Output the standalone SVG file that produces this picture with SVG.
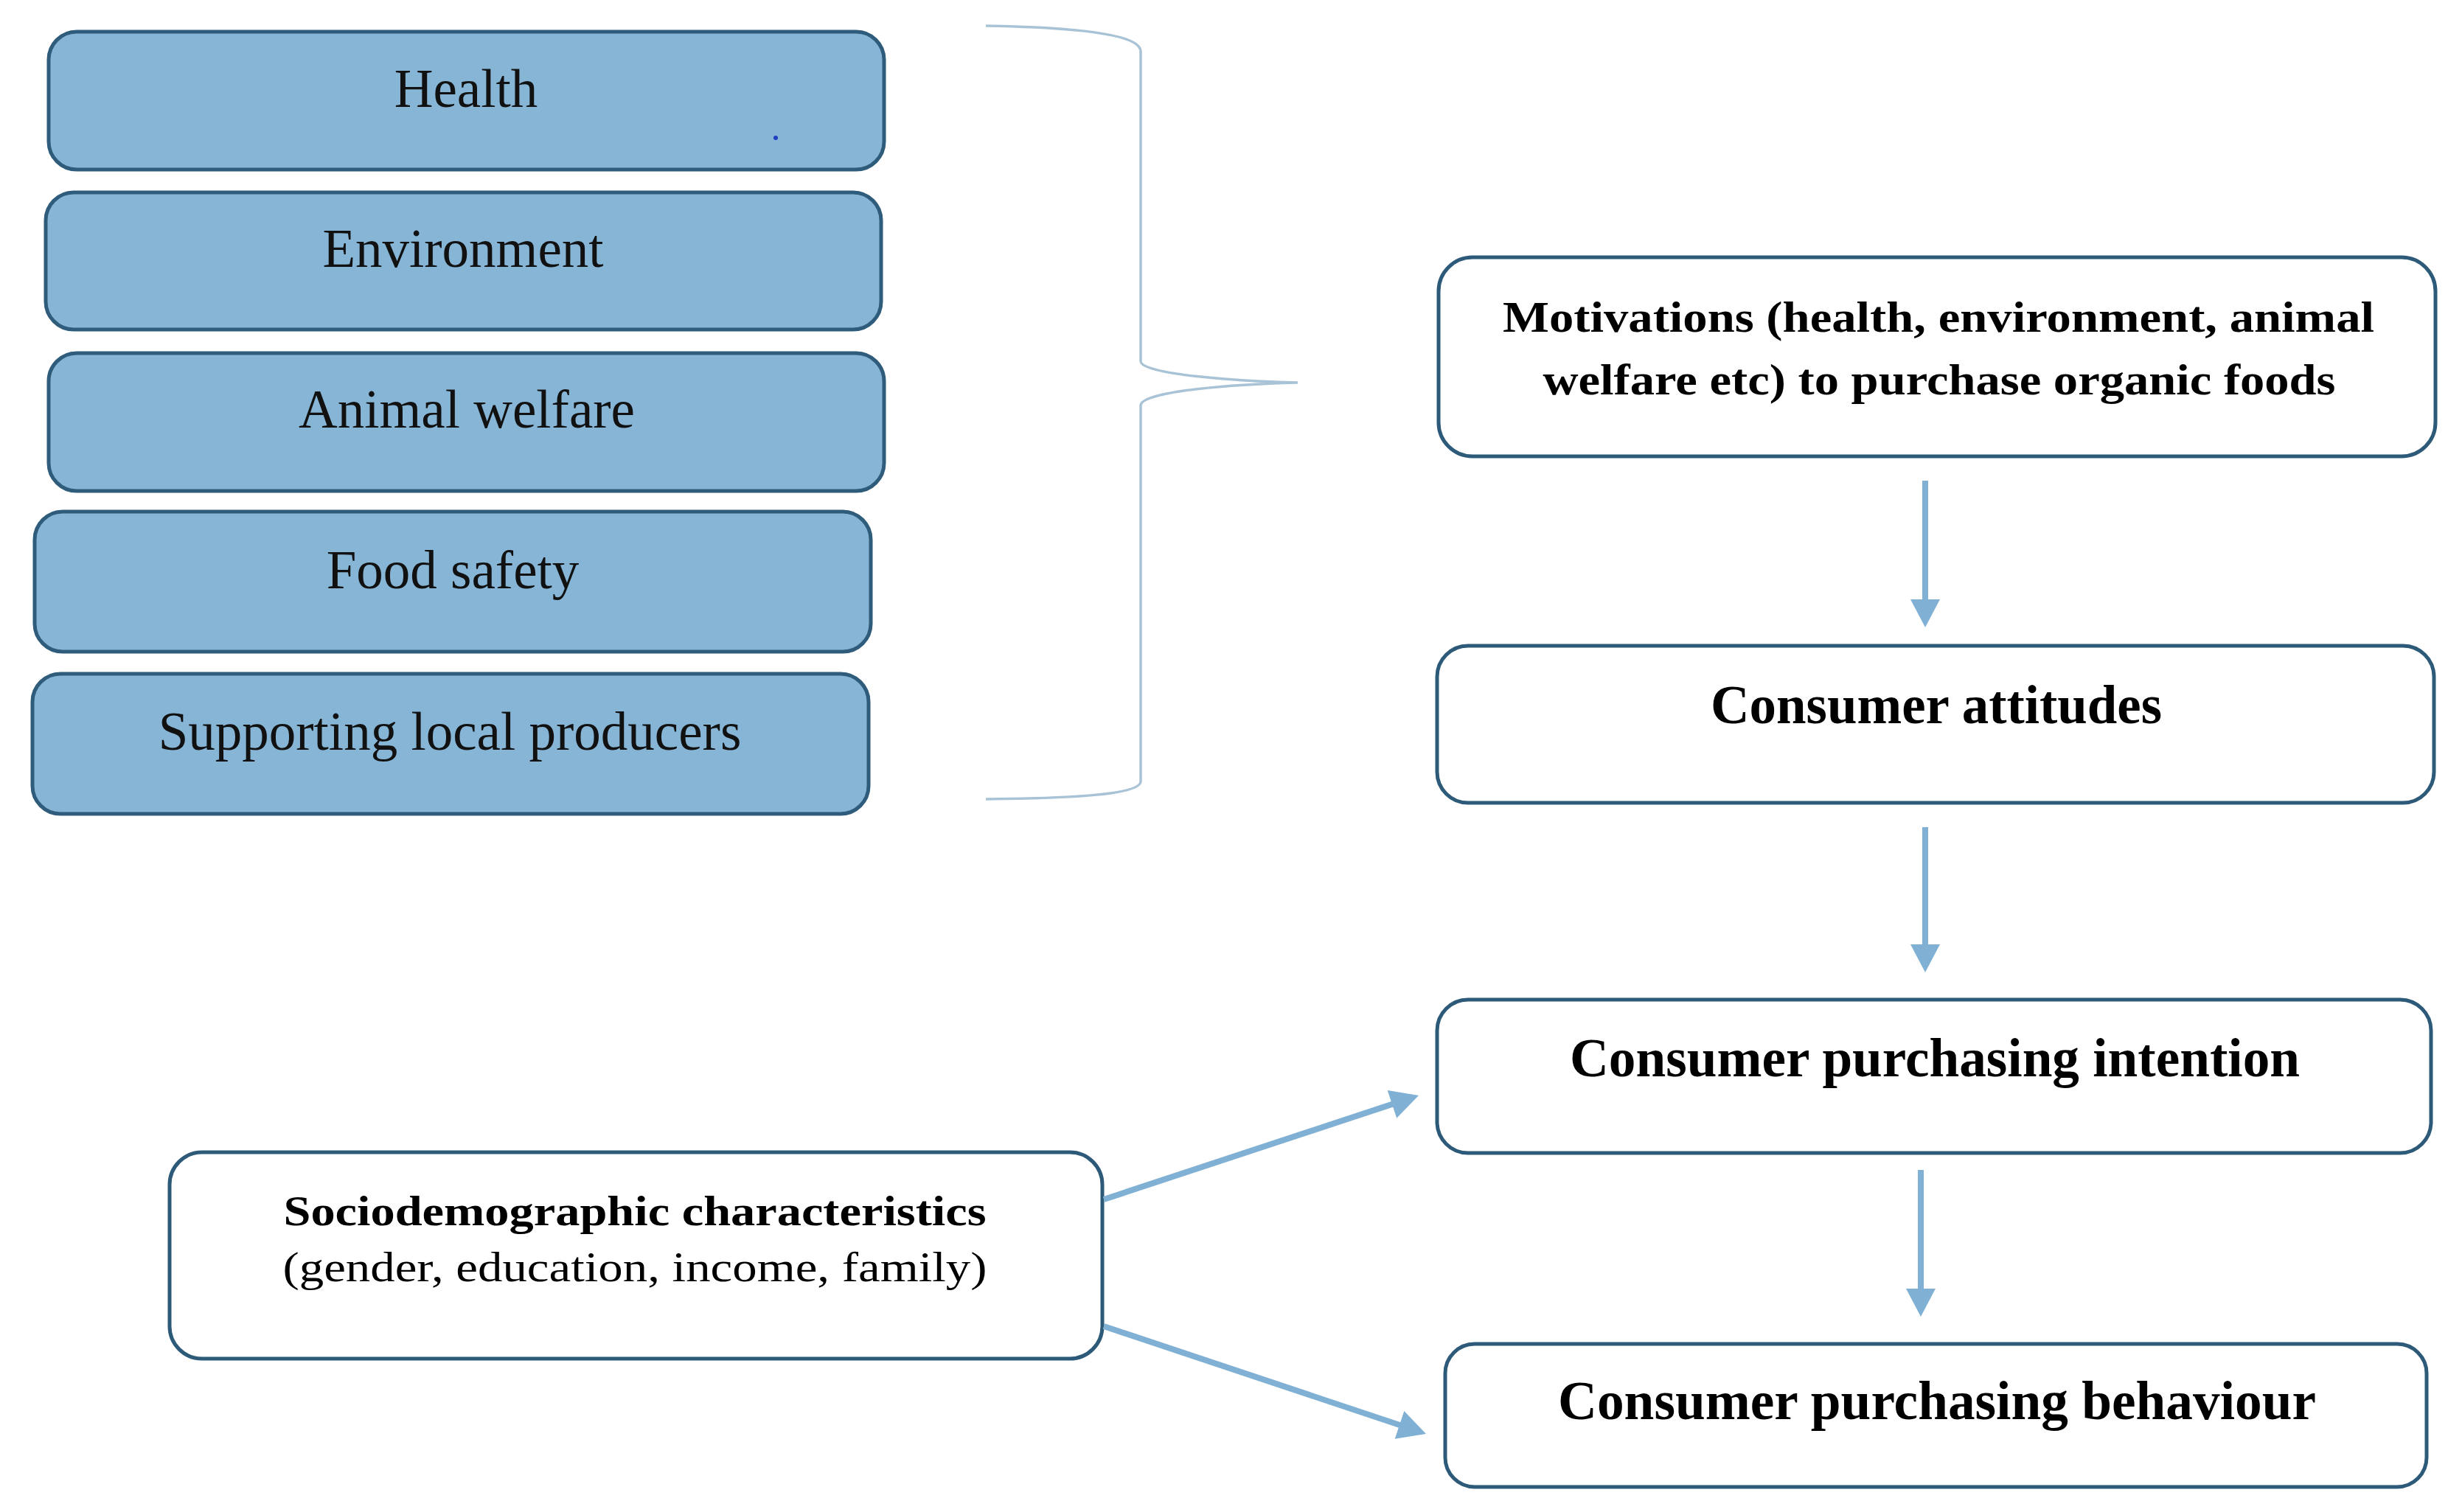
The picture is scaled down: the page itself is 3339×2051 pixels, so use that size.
<svg xmlns="http://www.w3.org/2000/svg" width="3339" height="2051" viewBox="0 0 3339 2051">
  <style>
    .fbox { fill: #86b5d6; stroke: #2f5c7b; stroke-width: 5; }
    .wbox { fill: #ffffff; stroke: #2c5a78; stroke-width: 5; }
    .lt { font-family: "Liberation Serif", "Times New Roman", serif; font-size: 73px; fill: #111; text-anchor: middle; }
    .bt { font-family: "Liberation Serif", "Times New Roman", serif; font-weight: bold; fill: #000; text-anchor: middle; }
    .rt { font-family: "Liberation Serif", "Times New Roman", serif; fill: #000; text-anchor: middle; }
    .conn { stroke: #80b1d4; stroke-width: 8; fill: none; }
    .brace { stroke: #a9c3d6; stroke-width: 3.5; fill: none; }
  </style>
  <defs>
    <marker id="ah" markerUnits="userSpaceOnUse" markerWidth="40" markerHeight="40" refX="28" refY="20" orient="auto">
      <path d="M0,0 L38,20 L0,40 z" fill="#80b1d4"/>
    </marker>
  </defs>
  <rect width="3339" height="2051" fill="#ffffff"/>

  <g id="health">
    <rect class="fbox" x="66" y="43" width="1133" height="187" rx="38"/>
    <text class="lt" x="632" y="145">Health</text>
    <circle cx="1052" cy="187" r="3" fill="#2040c0"/>
  </g>
  <g id="environment">
    <rect class="fbox" x="62" y="261" width="1133" height="186" rx="38"/>
    <text class="lt" x="628" y="362">Environment</text>
  </g>
  <g id="animal-welfare">
    <rect class="fbox" x="66" y="479" width="1133" height="187" rx="38"/>
    <text class="lt" x="633" y="580">Animal welfare</text>
  </g>
  <g id="food-safety">
    <rect class="fbox" x="47" y="694" width="1134" height="190" rx="38"/>
    <text class="lt" x="614" y="798">Food safety</text>
  </g>
  <g id="local-producers">
    <rect class="fbox" x="44" y="914" width="1134" height="190" rx="38"/>
    <text class="lt" x="610" y="1017">Supporting local producers</text>
  </g>

  <g id="brace">
    <path class="brace" d="M1337,35 C1450,37 1547,45 1547,70 L1547,490 C1547,508 1680,517 1760,519 C1680,521 1547,530 1547,550 L1547,1060 C1547,1078 1450,1083 1337,1084"/>
  </g>

  <g id="motivations">
    <rect class="wbox" x="1951" y="349" width="1352" height="270" rx="46"/>
    <text class="bt" x="2629" y="450" font-size="59" textLength="1182" lengthAdjust="spacingAndGlyphs">Motivations (health, environment, animal</text>
    <text class="bt" x="2630" y="535" font-size="59" textLength="1075" lengthAdjust="spacingAndGlyphs">welfare etc) to purchase organic foods</text>
  </g>
  <g id="attitudes">
    <rect class="wbox" x="1949" y="876" width="1352" height="213" rx="42"/>
    <text class="bt" x="2626" y="981" font-size="73" textLength="612" lengthAdjust="spacingAndGlyphs">Consumer attitudes</text>
  </g>
  <g id="intention">
    <rect class="wbox" x="1949" y="1356" width="1348" height="208" rx="42"/>
    <text class="bt" x="2624" y="1460" font-size="73" textLength="990" lengthAdjust="spacingAndGlyphs">Consumer purchasing intention</text>
  </g>
  <g id="behaviour">
    <rect class="wbox" x="1960" y="1823" width="1331" height="194" rx="40"/>
    <text class="bt" x="2627" y="1925" font-size="73" textLength="1028" lengthAdjust="spacingAndGlyphs">Consumer purchasing behaviour</text>
  </g>
  <g id="sociodemographic">
    <rect class="wbox" x="230" y="1563" width="1265" height="280" rx="44"/>
    <text class="bt" x="861" y="1662" font-size="56" textLength="953" lengthAdjust="spacingAndGlyphs">Sociodemographic characteristics</text>
    <text class="rt" x="861" y="1738" font-size="56" textLength="955" lengthAdjust="spacingAndGlyphs">(gender, education, income, family)</text>
  </g>

  <g id="connectors">
    <line class="conn" x1="2611" y1="652" x2="2611" y2="841" marker-end="url(#ah)"/>
    <line class="conn" x1="2611" y1="1122" x2="2611" y2="1309" marker-end="url(#ah)"/>
    <line class="conn" x1="2605" y1="1587" x2="2605" y2="1776" marker-end="url(#ah)"/>
    <line class="conn" x1="1497" y1="1627" x2="1914.5" y2="1489.1" marker-end="url(#ah)"/>
    <line class="conn" x1="1497" y1="1799" x2="1924.5" y2="1941.8" marker-end="url(#ah)"/>
  </g>
</svg>
